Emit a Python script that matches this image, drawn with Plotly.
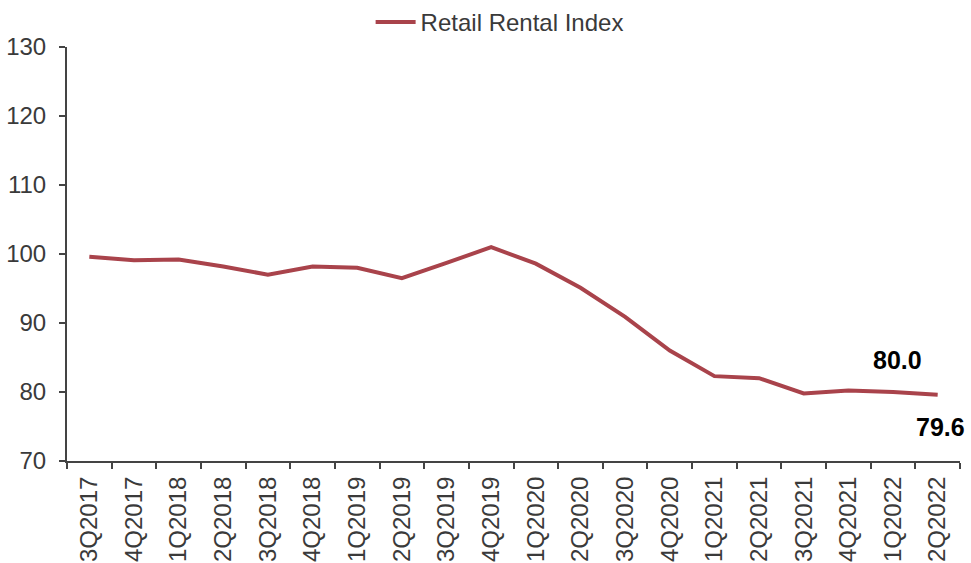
import plotly.graph_objects as go

quarters = ["3Q2017", "4Q2017", "1Q2018", "2Q2018", "3Q2018", "4Q2018", "1Q2019", "2Q2019",
            "3Q2019", "4Q2019", "1Q2020", "2Q2020", "3Q2020", "4Q2020", "1Q2021", "2Q2021",
            "3Q2021", "4Q2021", "1Q2022", "2Q2022"]
index_values = [99.6, 99.1, 99.2, 98.2, 97.0, 98.2, 98.0, 96.5, 98.7, 101.0,
                98.6, 95.1, 90.9, 86.0, 82.3, 82.0, 79.8, 80.2, 80.0, 79.6]
series_name = "Retail Rental Index"
label_points = [("1Q2022", 80.0, "80.0", 32), ("2Q2022", 79.6, "79.6", -32)]

LINE = "#A9434B"
TXT = "#3a3a3a"
FONT = "Liberation Sans, Arial, sans-serif"

fig = go.Figure()
fig.add_trace(go.Scatter(x=quarters, y=index_values, mode="lines", name=series_name,
                         line=dict(color=LINE, width=4)))

for q, v, t, ys in label_points:
    fig.add_annotation(x=q, y=v, text="<b>" + t + "</b>", showarrow=False,
                       yshift=ys, xshift=3 if ys < 0 else 4,
                       font=dict(family=FONT, size=25, color="#000000"))

fig.update_layout(
    width=971, height=563,
    margin=dict(l=67, r=11, t=47, b=102, autoexpand=False),
    paper_bgcolor="white", plot_bgcolor="white",
    font=dict(family=FONT, size=23, color=TXT),
    showlegend=True,
    legend=dict(orientation="h", x=0.34, xanchor="left", xref="paper",
                y=1.0, yref="container", yanchor="top",
                font=dict(family=FONT, size=24, color=TXT), bgcolor="rgba(0,0,0,0)",
                itemwidth=40),
    xaxis=dict(type="category", showgrid=False, showline=True, linecolor="#444", linewidth=2,
               ticks="outside", ticklen=6, tickcolor="#444", tickwidth=2, tickson="boundaries",
               tickangle=-90, tickfont=dict(family=FONT, size=24, color=TXT),
               ticklabelstandoff=4, automargin=False,
               range=[-0.5, len(quarters) - 0.5]),
    yaxis=dict(range=[70, 130], dtick=10, tick0=70, showgrid=False, zeroline=False,
               showline=True, linecolor="#444", linewidth=2,
               ticks="outside", ticklen=6, tickcolor="#444", tickwidth=2,
               ticklabelstandoff=8, automargin=False,
               tickfont=dict(family=FONT, size=24, color=TXT)),
)

fig.write_html("out.html")
